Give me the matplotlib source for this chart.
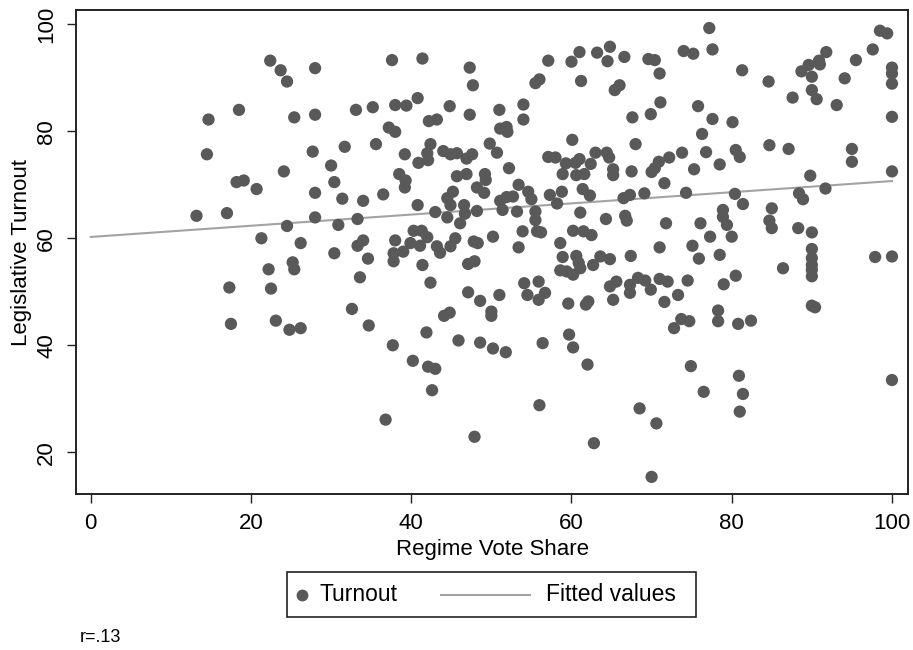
import matplotlib
matplotlib.use("Agg")
import matplotlib.pyplot as plt
from matplotlib.lines import Line2D
from matplotlib.offsetbox import AnchoredOffsetbox, HPacker, TextArea, DrawingArea

# ---- data ----
vote_share = [
    22.4, 23.7, 24.5, 28.0, 18.5, 14.7, 25.4, 28.0, 31.7, 14.5, 27.7, 30.0, 24.1, 18.2, 19.1, 20.7, 30.4, 28.0,
    31.4, 13.2, 17.0, 28.0, 24.5, 30.9, 21.3, 26.2,
    30.4, 25.2, 25.4, 22.2, 17.3, 22.5, 32.6, 17.5, 23.1, 24.8, 26.2,
    37.6, 41.4, 47.3, 47.7, 55.5, 56.0, 33.1, 35.2, 38.0, 39.4, 40.8, 44.8, 47.3, 51.0, 54.0, 54.0, 42.2, 43.2,
    37.2, 38.0, 51.1, 51.9, 52.0, 35.6, 39.2, 42.4, 42.0, 42.1, 40.9, 44.0, 44.9, 45.7, 46.9, 47.6, 49.8, 50.7,
    52.2, 38.5, 39.3, 39.2, 45.7, 46.9, 49.2, 49.3, 48.2, 49.1, 45.2, 44.5, 36.5, 34.0, 40.8, 53.4, 54.6, 55.0,
    51.1, 51.9, 52.7, 51.4, 53.2, 55.5, 55.5, 44.9, 46.6, 43.0, 44.5, 46.7, 48.2, 46.1, 33.3, 53.9, 55.7, 50.2,
    40.3, 41.3, 42.0, 45.5, 38.0, 34.0, 33.3, 39.9, 41.1, 43.2, 44.9, 47.8, 48.3, 53.4,
    37.8, 39.0, 37.8, 34.6, 33.6, 41.4, 43.6, 47.1, 47.9, 42.4, 47.1, 48.6, 51.0, 54.1, 54.5, 55.9, 55.9, 44.1,
    44.8, 50.0, 50.0, 34.7, 41.9, 37.7, 45.9, 48.6, 50.2, 51.8, 56.4, 40.2, 42.1, 43.0, 42.6, 56.0, 36.8, 47.9,
    77.2, 77.6, 74.0, 75.2, 57.1, 60.0, 61.0, 63.2, 64.8, 64.5, 66.6, 69.6, 70.4, 71.0, 61.2, 65.4, 66.0, 71.1,
    67.6, 69.9, 75.8, 77.6, 80.1, 76.3, 60.1, 68.0, 76.8, 78.5, 73.8, 72.2, 70.9, 70.0, 70.4, 75.3, 71.6, 74.3,
    57.1, 58.0, 59.3, 60.5, 61.0, 58.9, 60.6, 61.6, 62.4, 63.0, 64.4, 64.7, 65.2, 65.2, 67.5, 69.1, 66.5, 67.3,
    61.4, 62.3, 58.8, 57.3, 58.2, 61.1, 64.3, 66.7, 66.9, 71.8, 76.1, 78.9, 78.9, 79.4, 56.2, 60.2, 61.5, 62.5,
    58.6, 71.0, 75.1, 77.3,
    75.9, 78.5, 58.9, 60.6, 60.9, 58.6, 59.4, 60.2, 61.1, 62.7, 63.6, 64.8, 67.4, 56.7, 59.6, 62.1, 61.8, 64.8,
    65.6, 65.2, 67.3, 67.3, 68.3, 69.2, 69.9, 71.0, 72.0, 71.6, 73.3, 74.5, 73.7, 74.7, 72.8, 78.3, 78.3, 79.0,
    59.7, 60.2, 62.0, 74.9, 76.5, 68.5, 70.6, 62.8, 70.0,
    98.5, 99.4, 97.6, 91.8, 90.9, 91.0, 89.6, 88.7, 90.0, 95.5, 94.1, 81.3, 84.6, 100.0, 100.0, 100.0, 90.0, 90.6,
    87.6, 93.1, 100.0, 84.7, 87.1, 95.0, 95.0, 80.5, 81.0, 89.8, 100.0, 91.7, 80.4, 81.4, 88.4, 88.9, 85.0, 80.0,
    84.7, 85.0, 88.3, 90.0,
    90.0, 90.0, 90.0, 90.0, 90.0, 80.5, 86.4, 97.9, 100.0, 90.0, 90.4, 80.8, 82.4, 80.9, 81.4, 81.0, 100.0,
]
turnout = [
    93.2, 91.4, 89.3, 91.8, 84.0, 82.2, 82.6, 83.1, 77.1, 75.7, 76.2, 73.6, 72.5, 70.5, 70.8, 69.2, 70.5, 68.5,
    67.4, 64.2, 64.7, 63.9, 62.3, 62.5, 60.0, 59.1,
    57.2, 55.5, 54.2, 54.2, 50.8, 50.6, 46.8, 44.0, 44.6, 42.9, 43.2,
    93.3, 93.6, 91.9, 88.6, 89.0, 89.7, 84.0, 84.5, 84.9, 84.8, 86.2, 84.7, 83.1, 84.0, 85.0, 82.2, 81.9, 82.2,
    80.7, 79.9, 80.5, 80.8, 79.9, 77.6, 75.7, 77.6, 75.9, 74.6, 74.1, 76.3, 75.7, 75.9, 74.9, 75.7, 77.7, 76.0,
    73.1, 72.0, 70.8, 69.5, 71.6, 72.0, 72.0, 70.9, 69.5, 68.5, 68.7, 67.5, 68.2, 67.0, 66.2, 70.0, 68.7, 67.3,
    67.0, 67.7, 67.8, 65.3, 65.0, 65.0, 63.4, 66.2, 66.2, 64.9, 63.9, 64.6, 65.1, 62.8, 63.6, 61.3, 61.3, 60.3,
    61.4, 61.4, 60.2, 60.0, 59.6, 59.6, 58.6, 59.1, 58.6, 58.5, 58.5, 59.4, 59.1, 58.3,
    57.2, 57.5, 55.7, 56.2, 52.7, 55.0, 57.3, 55.2, 55.7, 51.7, 49.9, 48.3, 49.4, 51.6, 49.4, 51.9, 48.5, 45.5,
    46.1, 46.3, 45.5, 43.7, 42.4, 40.0, 40.9, 40.5, 39.4, 38.7, 40.4, 37.1, 36.0, 35.6, 31.6, 28.8, 26.1, 22.9,
    99.3, 95.3, 95.0, 94.5, 93.2, 93.0, 94.8, 94.7, 95.8, 93.1, 93.9, 93.5, 93.3, 90.8, 89.4, 87.7, 88.6, 85.4,
    82.6, 83.2, 84.7, 82.3, 81.7, 79.5, 78.4, 77.6, 76.1, 73.8, 76.0, 75.1, 74.3, 72.4, 73.1, 72.9, 70.3, 68.5,
    75.2, 75.1, 74.0, 74.1, 74.8, 72.0, 71.8, 72.0, 73.9, 76.0, 76.0, 75.1, 72.9, 71.8, 72.5, 68.4, 67.5, 68.1,
    69.2, 68.0, 68.7, 68.1, 66.5, 64.8, 63.6, 64.2, 63.3, 62.8, 62.8, 65.3, 64.0, 62.5, 61.1, 61.4, 61.3, 60.6,
    59.1, 58.3, 58.6, 60.3,
    56.2, 56.9, 56.5, 56.7, 55.4, 54.0, 53.8, 53.2, 54.4, 55.0, 56.6, 56.1, 56.7, 49.8, 47.8, 48.2, 47.6, 51.0,
    51.9, 48.5, 51.3, 49.8, 52.6, 52.1, 50.4, 52.4, 51.9, 48.1, 49.4, 52.1, 44.9, 44.5, 43.2, 46.5, 44.5, 51.4,
    42.0, 39.6, 36.4, 36.1, 31.3, 28.2, 25.4, 21.7, 15.4,
    98.8, 98.3, 95.3, 94.8, 93.2, 92.5, 92.4, 91.2, 90.2, 93.3, 89.9, 91.4, 89.3, 91.9, 90.8, 88.9, 87.7, 86.0,
    86.3, 84.9, 82.7, 77.4, 76.7, 76.7, 74.3, 76.5, 75.2, 71.7, 72.5, 69.3, 68.3, 66.4, 68.4, 67.3, 65.6, 60.3,
    63.3, 61.9, 61.9, 61.1,
    58.0, 56.3, 55.0, 54.1, 52.9, 53.0, 54.4, 56.5, 56.6, 47.4, 47.1, 44.0, 44.6, 34.3, 30.9, 27.6, 33.5,
]
fit_x = [0, 100]
fit_y = [60.25, 70.7]
x_ticks = [0, 20, 40, 60, 80, 100]
y_ticks = [20, 40, 60, 80, 100]
note_text = "r=.13"

FONT = ["Liberation Sans", "DejaVu Sans"]
plt.rcParams["font.family"] = FONT
MARKER_C = "#595959"
LINE_C = "#a3a3a3"

fig = plt.figure(figsize=(9.13, 6.5), dpi=100)
ax = fig.add_axes([76 / 913, 1 - 494 / 650, (908 - 76) / 913, (494 - 10) / 650])

ax.scatter(vote_share, turnout, s=78, color=MARKER_C, edgecolors="none", zorder=3)
ax.plot(fit_x, fit_y, color=LINE_C, lw=1.5, zorder=2)

ax.set_xlim(-1.84, 102.0)
ax.set_ylim(12.2, 102.67)
ax.set_xticks(x_ticks)
ax.set_yticks(y_ticks)
ax.tick_params(axis="both", direction="out", length=6.5, width=1.0, color="#222222",
               labelsize=16, pad=7)
for lab in ax.get_yticklabels():
    lab.set_rotation(90)
    lab.set_va("center")
for sp in ax.spines.values():
    sp.set_linewidth(1.4)
    sp.set_color("#222222")

ax.set_xlabel("Regime Vote Share", fontsize=16, labelpad=4)
ax.set_ylabel("Legislative Turnout", fontsize=16, labelpad=3)

# legend (Stata-style box below the plot)
tp = dict(fontsize=16.5, family=FONT)
H = 32
def spacer(w):
    return DrawingArea(w, H)
da_m = DrawingArea(9, H)
da_m.add_artist(Line2D([4.5], [H / 2], marker="o", ms=7.5, color=MARKER_C, ls="none"))
da_l = DrawingArea(64, H)
da_l.add_artist(Line2D([0, 64], [H / 2, H / 2], color=LINE_C, lw=1.5))
pack = HPacker(children=[spacer(7), da_m, spacer(8), TextArea("Turnout", textprops=tp),
                         spacer(31), da_l, spacer(11.5), TextArea("Fitted values", textprops=tp),
                         spacer(15)],
               align="center", pad=0, sep=0)
box = AnchoredOffsetbox(loc="center", child=pack, pad=0, borderpad=0, frameon=True,
                        bbox_to_anchor=(491.5 / 913, 1 - 594.5 / 650),
                        bbox_transform=fig.transFigure)
box.patch.set_boxstyle("square", pad=0)
box.patch.set_edgecolor("#222222")
box.patch.set_linewidth(1.2)
fig.add_artist(box)

fig.text(80 / 913, 1 - 638 / 650, note_text, fontsize=13, ha="left", va="center")

fig.savefig("out.png", dpi=100, facecolor="white")
